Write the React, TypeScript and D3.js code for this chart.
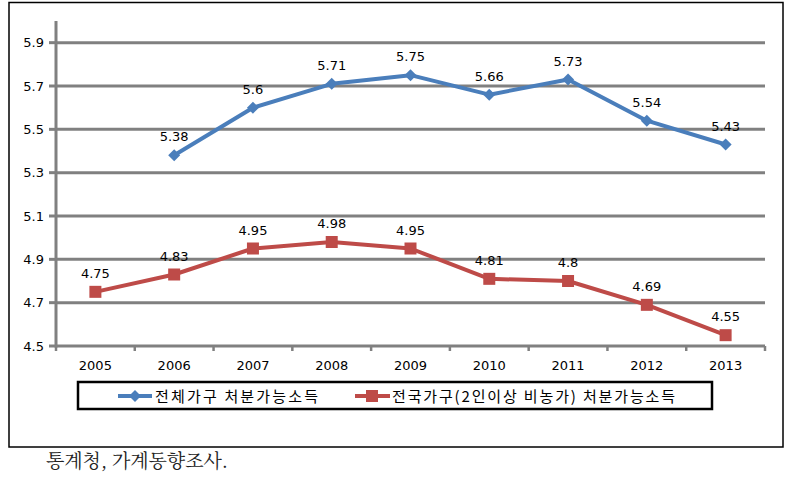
import React from "react";
import * as d3 from "d3";

const years = ["2005", "2006", "2007", "2008", "2009", "2010", "2011", "2012", "2013"];
const totalHouseholds: (number | null)[] = [null, 5.38, 5.6, 5.71, 5.75, 5.66, 5.73, 5.54, 5.43];
const urbanHouseholds: number[] = [4.75, 4.83, 4.95, 4.98, 4.95, 4.81, 4.8, 4.69, 4.55];
const yTicks = [4.5, 4.7, 4.9, 5.1, 5.3, 5.5, 5.7, 5.9];
const seriesNames = ["전체가구 처분가능소득", "전국가구(2인이상 비농가) 처분가능소득"];
const sourceText = "통계청, 가계동향조사.";

const W = 796, H = 486;
const left = 56, right = 765, top = 21, bottom = 346;
const BLUE = "#4A7EBB";
const RED = "#BE4B48";
const GRID = "#808080";
const FONT = "Verdana, 'DejaVu Sans', 'Noto Sans CJK KR', sans-serif";
const KFONT = "'Noto Sans CJK KR', 'DejaVu Sans', sans-serif";

export default function App() {
  const x = d3.scaleBand<string>().domain(years).range([left, right]);
  const y = d3.scaleLinear().domain([4.5, 6.0]).range([bottom, top]);
  const cx = (yr: string) => (x(yr) as number) + x.bandwidth() / 2;

  const line = d3
    .line<{ yr: string; v: number | null }>()
    .defined((d) => d.v !== null)
    .x((d) => cx(d.yr))
    .y((d) => y(d.v as number));

  const blueData = years.map((yr, i) => ({ yr, v: totalHouseholds[i] }));
  const redData = years.map((yr, i) => ({ yr, v: urbanHouseholds[i] as number | null }));

  const diamond = (px: number, py: number, r: number) =>
    `M${px},${py - r}L${px + r},${py}L${px},${py + r}L${px - r},${py}Z`;

  const boundaries = d3.range(years.length + 1).map((i) => left + i * x.bandwidth());
  const ly = 396;

  return (
    <svg width={W} height={H} style={{ position: "absolute", left: 0, top: 0, background: "#fff" }}>
      <rect x={9} y={2.5} width={774} height={444.5} fill="#fff" stroke="#000" strokeWidth={1.5} />
      {yTicks.map((t) => (
        <g key={t}>
          <line x1={left} x2={right} y1={y(t)} y2={y(t)} stroke={GRID} strokeWidth={3} />
          <line x1={left - 7} x2={left} y1={y(t)} y2={y(t)} stroke={GRID} strokeWidth={3} />
          <text x={left - 12} y={y(t)} dy="0.35em" textAnchor="end" fontFamily={FONT} fontSize={13} fill="#000">
            {t.toFixed(1)}
          </text>
        </g>
      ))}
      <line x1={left} x2={left} y1={top} y2={bottom + 1.5} stroke={GRID} strokeWidth={3} />
      {boundaries.map((bx, i) => (
        <line key={i} x1={bx} x2={bx} y1={bottom} y2={bottom + 5} stroke={GRID} strokeWidth={2.5} />
      ))}
      {years.map((yr) => (
        <text key={yr} x={cx(yr)} y={bottom + 24} textAnchor="middle" fontFamily={FONT} fontSize={13} fill="#000">
          {yr}
        </text>
      ))}

      <path d={line(blueData) || ""} fill="none" stroke={BLUE} strokeWidth={4} strokeLinejoin="round" />
      {blueData.filter((d) => d.v !== null).map((d) => (
        <g key={"b" + d.yr}>
          <path d={diamond(cx(d.yr), y(d.v as number), 6)} fill={BLUE} />
          <text x={cx(d.yr)} y={y(d.v as number) - 14} textAnchor="middle" fontFamily={FONT} fontSize={13} fill="#000">
            {String(d.v)}
          </text>
        </g>
      ))}

      <path d={line(redData) || ""} fill="none" stroke={RED} strokeWidth={4} strokeLinejoin="round" />
      {redData.map((d) => (
        <g key={"r" + d.yr}>
          <rect x={cx(d.yr) - 6} y={y(d.v as number) - 6} width={12} height={12} fill={RED} />
          <text x={cx(d.yr)} y={y(d.v as number) - 14} textAnchor="middle" fontFamily={FONT} fontSize={13} fill="#000">
            {String(d.v)}
          </text>
        </g>
      ))}

      <rect x={78} y={382} width={634} height={27} fill="#fff" stroke="#000" strokeWidth={2.5} />
      <line x1={118} x2={152} y1={ly} y2={ly} stroke={BLUE} strokeWidth={4} />
      <path d={diamond(135, ly, 6)} fill={BLUE} />
      <text x={155} y={ly + 1} dy="0.35em" fontFamily={KFONT} fontSize={15} fill="#000" textLength={163} lengthAdjust="spacing">
        {seriesNames[0]}
      </text>
      <line x1={355} x2={390} y1={ly} y2={ly} stroke={RED} strokeWidth={4} />
      <rect x={366} y={ly - 6} width={12} height={12} fill={RED} />
      <text x={392} y={ly + 1} dy="0.35em" fontFamily={KFONT} fontSize={15} fill="#000" textLength={283} lengthAdjust="spacing">
        {seriesNames[1]}
      </text>

      <text x={46} y={468} fontFamily="'Noto Serif CJK KR', 'Noto Sans CJK KR', serif" fontSize={19} fill="#222" textLength={182} lengthAdjust="spacing">
        {sourceText}
      </text>
    </svg>
  );
}
